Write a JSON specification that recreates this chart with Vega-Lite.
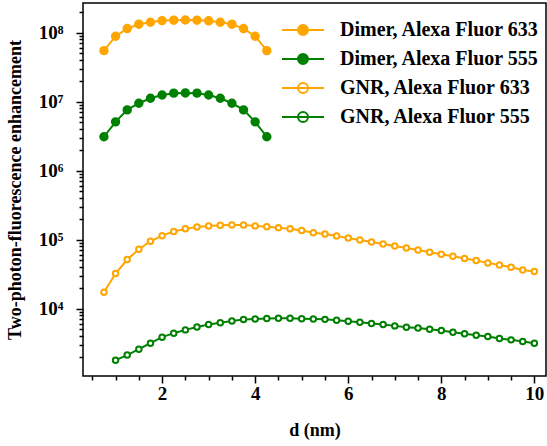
{
  "$schema": "https://vega.github.io/schema/vega-lite/v6.json",
  "width": 463,
  "height": 373,
  "autosize": "none",
  "padding": {"left": 83, "top": 3, "right": 1, "bottom": 70},
  "background": "white",
  "config": {
    "view": {"stroke": "black", "strokeWidth": 1.5},
    "axis": {
      "domain": false, "grid": false,
      "tickColor": "black", "tickWidth": 1.5,
      "labelFont": "Liberation Serif, Times New Roman, Times, serif", "labelFontWeight": "bold", "labelFontSize": 19, "labelColor": "black",
      "titleFont": "Liberation Serif, Times New Roman, Times, serif", "titleFontWeight": "bold", "titleFontSize": 18, "titleColor": "black"
    },
    "legend": {
      "orient": "none", "legendX": 209, "legendY": 16, "title": null, "padding": 0,
      "labelFont": "Liberation Serif, Times New Roman, Times, serif", "labelFontWeight": "bold", "labelFontSize": 20, "labelColor": "black", "labelLimit": 400,
      "symbolType": "M-2.1,0L2.1,0M0.5,0A0.5,0.5,0,1,1,-0.5,0A0.5,0.5,0,1,1,0.5,0",
      "symbolSize": 400, "symbolStrokeWidth": 2, "labelOffset": 26, "rowPadding": 8
    }
  },
  "data": {"values": [
    {"d":0.75,"v":5.5e7,"series":"Dimer, Alexa Fluor 633"},
    {"d":1.0,"v":8.9e7,"series":"Dimer, Alexa Fluor 633"},
    {"d":1.25,"v":1.15e8,"series":"Dimer, Alexa Fluor 633"},
    {"d":1.5,"v":1.33e8,"series":"Dimer, Alexa Fluor 633"},
    {"d":1.75,"v":1.42e8,"series":"Dimer, Alexa Fluor 633"},
    {"d":2.0,"v":1.5e8,"series":"Dimer, Alexa Fluor 633"},
    {"d":2.25,"v":1.52e8,"series":"Dimer, Alexa Fluor 633"},
    {"d":2.5,"v":1.53e8,"series":"Dimer, Alexa Fluor 633"},
    {"d":2.75,"v":1.52e8,"series":"Dimer, Alexa Fluor 633"},
    {"d":3.0,"v":1.49e8,"series":"Dimer, Alexa Fluor 633"},
    {"d":3.25,"v":1.42e8,"series":"Dimer, Alexa Fluor 633"},
    {"d":3.5,"v":1.33e8,"series":"Dimer, Alexa Fluor 633"},
    {"d":3.75,"v":1.15e8,"series":"Dimer, Alexa Fluor 633"},
    {"d":4.0,"v":8.9e7,"series":"Dimer, Alexa Fluor 633"},
    {"d":4.25,"v":5.5e7,"series":"Dimer, Alexa Fluor 633"},
    {"d":0.75,"v":3.1e6,"series":"Dimer, Alexa Fluor 555"},
    {"d":1.0,"v":5.1e6,"series":"Dimer, Alexa Fluor 555"},
    {"d":1.25,"v":7.6e6,"series":"Dimer, Alexa Fluor 555"},
    {"d":1.5,"v":9.5e6,"series":"Dimer, Alexa Fluor 555"},
    {"d":1.75,"v":1.12e7,"series":"Dimer, Alexa Fluor 555"},
    {"d":2.0,"v":1.25e7,"series":"Dimer, Alexa Fluor 555"},
    {"d":2.25,"v":1.33e7,"series":"Dimer, Alexa Fluor 555"},
    {"d":2.5,"v":1.34e7,"series":"Dimer, Alexa Fluor 555"},
    {"d":2.75,"v":1.33e7,"series":"Dimer, Alexa Fluor 555"},
    {"d":3.0,"v":1.25e7,"series":"Dimer, Alexa Fluor 555"},
    {"d":3.25,"v":1.12e7,"series":"Dimer, Alexa Fluor 555"},
    {"d":3.5,"v":9.5e6,"series":"Dimer, Alexa Fluor 555"},
    {"d":3.75,"v":7.6e6,"series":"Dimer, Alexa Fluor 555"},
    {"d":4.0,"v":5.1e6,"series":"Dimer, Alexa Fluor 555"},
    {"d":4.25,"v":3.1e6,"series":"Dimer, Alexa Fluor 555"},
    {"d":0.75,"v":1.72e4,"series":"GNR, Alexa Fluor 633"},
    {"d":1.0,"v":3.21e4,"series":"GNR, Alexa Fluor 633"},
    {"d":1.25,"v":5.13e4,"series":"GNR, Alexa Fluor 633"},
    {"d":1.5,"v":7.23e4,"series":"GNR, Alexa Fluor 633"},
    {"d":1.75,"v":9.44e4,"series":"GNR, Alexa Fluor 633"},
    {"d":2.0,"v":1.14e5,"series":"GNR, Alexa Fluor 633"},
    {"d":2.25,"v":1.31e5,"series":"GNR, Alexa Fluor 633"},
    {"d":2.5,"v":1.43e5,"series":"GNR, Alexa Fluor 633"},
    {"d":2.75,"v":1.52e5,"series":"GNR, Alexa Fluor 633"},
    {"d":3.0,"v":1.57e5,"series":"GNR, Alexa Fluor 633"},
    {"d":3.25,"v":1.61e5,"series":"GNR, Alexa Fluor 633"},
    {"d":3.5,"v":1.63e5,"series":"GNR, Alexa Fluor 633"},
    {"d":3.75,"v":1.63e5,"series":"GNR, Alexa Fluor 633"},
    {"d":4.0,"v":1.58e5,"series":"GNR, Alexa Fluor 633"},
    {"d":4.25,"v":1.54e5,"series":"GNR, Alexa Fluor 633"},
    {"d":4.5,"v":1.49e5,"series":"GNR, Alexa Fluor 633"},
    {"d":4.75,"v":1.43e5,"series":"GNR, Alexa Fluor 633"},
    {"d":5.0,"v":1.35e5,"series":"GNR, Alexa Fluor 633"},
    {"d":5.25,"v":1.26e5,"series":"GNR, Alexa Fluor 633"},
    {"d":5.5,"v":1.2e5,"series":"GNR, Alexa Fluor 633"},
    {"d":5.75,"v":1.13e5,"series":"GNR, Alexa Fluor 633"},
    {"d":6.0,"v":1.05e5,"series":"GNR, Alexa Fluor 633"},
    {"d":6.25,"v":9.86e4,"series":"GNR, Alexa Fluor 633"},
    {"d":6.5,"v":9.22e4,"series":"GNR, Alexa Fluor 633"},
    {"d":6.75,"v":8.63e4,"series":"GNR, Alexa Fluor 633"},
    {"d":7.0,"v":8.07e4,"series":"GNR, Alexa Fluor 633"},
    {"d":7.25,"v":7.55e4,"series":"GNR, Alexa Fluor 633"},
    {"d":7.5,"v":7.06e4,"series":"GNR, Alexa Fluor 633"},
    {"d":7.75,"v":6.54e4,"series":"GNR, Alexa Fluor 633"},
    {"d":8.0,"v":6.12e4,"series":"GNR, Alexa Fluor 633"},
    {"d":8.25,"v":5.72e4,"series":"GNR, Alexa Fluor 633"},
    {"d":8.5,"v":5.31e4,"series":"GNR, Alexa Fluor 633"},
    {"d":8.75,"v":4.97e4,"series":"GNR, Alexa Fluor 633"},
    {"d":9.0,"v":4.59e4,"series":"GNR, Alexa Fluor 633"},
    {"d":9.25,"v":4.29e4,"series":"GNR, Alexa Fluor 633"},
    {"d":9.5,"v":3.97e4,"series":"GNR, Alexa Fluor 633"},
    {"d":9.75,"v":3.63e4,"series":"GNR, Alexa Fluor 633"},
    {"d":10.0,"v":3.43e4,"series":"GNR, Alexa Fluor 633"},
    {"d":1.0,"v":1.78e3,"series":"GNR, Alexa Fluor 555"},
    {"d":1.25,"v":2.11e3,"series":"GNR, Alexa Fluor 555"},
    {"d":1.5,"v":2.57e3,"series":"GNR, Alexa Fluor 555"},
    {"d":1.75,"v":3.14e3,"series":"GNR, Alexa Fluor 555"},
    {"d":2.0,"v":3.84e3,"series":"GNR, Alexa Fluor 555"},
    {"d":2.25,"v":4.39e3,"series":"GNR, Alexa Fluor 555"},
    {"d":2.5,"v":4.9e3,"series":"GNR, Alexa Fluor 555"},
    {"d":2.75,"v":5.41e3,"series":"GNR, Alexa Fluor 555"},
    {"d":3.0,"v":5.86e3,"series":"GNR, Alexa Fluor 555"},
    {"d":3.25,"v":6.2e3,"series":"GNR, Alexa Fluor 555"},
    {"d":3.5,"v":6.61e3,"series":"GNR, Alexa Fluor 555"},
    {"d":3.75,"v":6.93e3,"series":"GNR, Alexa Fluor 555"},
    {"d":4.0,"v":7.06e3,"series":"GNR, Alexa Fluor 555"},
    {"d":4.25,"v":7.16e3,"series":"GNR, Alexa Fluor 555"},
    {"d":4.5,"v":7.24e3,"series":"GNR, Alexa Fluor 555"},
    {"d":4.75,"v":7.2e3,"series":"GNR, Alexa Fluor 555"},
    {"d":5.0,"v":7.12e3,"series":"GNR, Alexa Fluor 555"},
    {"d":5.25,"v":7.06e3,"series":"GNR, Alexa Fluor 555"},
    {"d":5.5,"v":6.96e3,"series":"GNR, Alexa Fluor 555"},
    {"d":5.75,"v":6.76e3,"series":"GNR, Alexa Fluor 555"},
    {"d":6.0,"v":6.54e3,"series":"GNR, Alexa Fluor 555"},
    {"d":6.25,"v":6.33e3,"series":"GNR, Alexa Fluor 555"},
    {"d":6.5,"v":6.06e3,"series":"GNR, Alexa Fluor 555"},
    {"d":6.75,"v":5.86e3,"series":"GNR, Alexa Fluor 555"},
    {"d":7.0,"v":5.6e3,"series":"GNR, Alexa Fluor 555"},
    {"d":7.25,"v":5.36e3,"series":"GNR, Alexa Fluor 555"},
    {"d":7.5,"v":5.2e3,"series":"GNR, Alexa Fluor 555"},
    {"d":7.75,"v":5.01e3,"series":"GNR, Alexa Fluor 555"},
    {"d":8.0,"v":4.8e3,"series":"GNR, Alexa Fluor 555"},
    {"d":8.25,"v":4.52e3,"series":"GNR, Alexa Fluor 555"},
    {"d":8.5,"v":4.29e3,"series":"GNR, Alexa Fluor 555"},
    {"d":8.75,"v":4.1e3,"series":"GNR, Alexa Fluor 555"},
    {"d":9.0,"v":3.93e3,"series":"GNR, Alexa Fluor 555"},
    {"d":9.25,"v":3.67e3,"series":"GNR, Alexa Fluor 555"},
    {"d":9.5,"v":3.51e3,"series":"GNR, Alexa Fluor 555"},
    {"d":9.75,"v":3.33e3,"series":"GNR, Alexa Fluor 555"},
    {"d":10.0,"v":3.14e3,"series":"GNR, Alexa Fluor 555"}
  ]},
  "resolve": {"axis": {"x": "independent", "y": "independent"}},
  "layer": [
    {
      "mark": {"type": "line", "strokeWidth": 2},
      "encoding": {
        "x": {"field": "d", "type": "quantitative",
          "scale": {"domain": [0.3, 10.25], "nice": false, "zero": false},
          "axis": {"orient": "bottom", "values": [2, 4, 6, 8, 10], "tickSize": 7, "labelPadding": 1, "title": "d (nm)", "titlePadding": 18}},
        "y": {"field": "v", "type": "quantitative",
          "scale": {"type": "log", "domain": [1050, 2.7e8], "nice": false},
          "axis": {"orient": "left", "values": [10000, 100000, 1000000, 10000000, 100000000], "tickSize": 7, "labelPadding": 13,
            "labelExpr": "'10' + ['⁰','¹','²','³','⁴','⁵','⁶','⁷','⁸','⁹'][round(log(datum.value)/LN10)]",
            "title": "Two-photon-fluorescence enhancement", "titlePadding": 14}},
        "stroke": {"field": "series", "type": "nominal",
          "scale": {"domain": ["Dimer, Alexa Fluor 633", "Dimer, Alexa Fluor 555", "GNR, Alexa Fluor 633", "GNR, Alexa Fluor 555"],
                    "range": ["#FFA500", "#008000", "#FFA500", "#008000"]},
          "legend": {"symbolType": "M-2.1,0L2.1,0M0.5,0A0.5,0.5,0,1,1,-0.5,0A0.5,0.5,0,1,1,0.5,0", "title": null}},
        "detail": {"field": "series"}
      }
    },
    {
      "transform": [{"filter": "indexof(datum.series, 'Dimer') == 0"}],
      "mark": {"type": "point", "filled": true, "size": 55, "strokeWidth": 2, "opacity": 1},
      "encoding": {
        "x": {"field": "d", "type": "quantitative",
          "axis": {"orient": "bottom", "values": [0.5, 1, 1.5, 2.5, 3, 3.5, 4.5, 5, 5.5, 6.5, 7, 7.5, 8.5, 9, 9.5], "tickSize": 4, "labels": false, "title": null}},
        "y": {"field": "v", "type": "quantitative",
          "axis": {"orient": "left", "values": [2000,3000,4000,5000,6000,7000,8000,9000,20000,30000,40000,50000,60000,70000,80000,90000,200000,300000,400000,500000,600000,700000,800000,900000,2000000,3000000,4000000,5000000,6000000,7000000,8000000,9000000,20000000,30000000,40000000,50000000,60000000,70000000,80000000,90000000,200000000], "tickSize": 4, "labels": false, "title": null}},
        "stroke": {"field": "series", "type": "nominal",
          "legend": {"symbolType": "M-2.1,0L2.1,0M0.5,0A0.5,0.5,0,1,1,-0.5,0A0.5,0.5,0,1,1,0.5,0", "title": null}},
        "fill": {"field": "series", "type": "nominal",
          "scale": {"domain": ["Dimer, Alexa Fluor 633", "Dimer, Alexa Fluor 555", "GNR, Alexa Fluor 633", "GNR, Alexa Fluor 555"],
                    "range": ["#FFA500", "#008000", "white", "white"]},
          "legend": {"symbolType": "M-2.1,0L2.1,0M0.5,0A0.5,0.5,0,1,1,-0.5,0A0.5,0.5,0,1,1,0.5,0", "title": null}}
      }
    },
    {
      "transform": [{"filter": "indexof(datum.series, 'GNR') == 0"}],
      "mark": {"type": "point", "filled": true, "size": 30, "strokeWidth": 2, "opacity": 1},
      "encoding": {
        "x": {"field": "d", "type": "quantitative", "axis": null},
        "y": {"field": "v", "type": "quantitative", "axis": null},
        "stroke": {"field": "series", "type": "nominal"},
        "fill": {"field": "series", "type": "nominal"}
      }
    }
  ]
}
